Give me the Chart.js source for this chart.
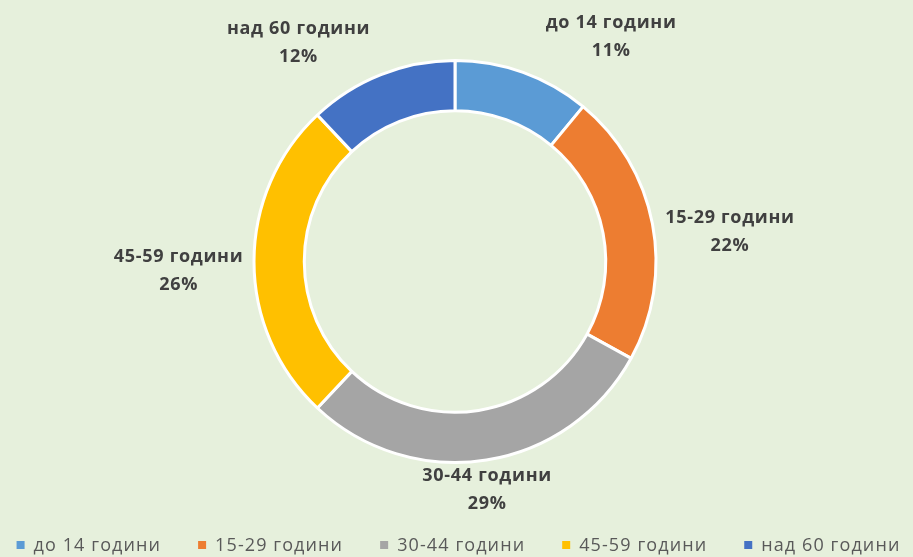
<!DOCTYPE html>
<html><head><meta charset="utf-8">
<script src="https://cdn.jsdelivr.net/npm/chart.js@4/dist/chart.umd.min.js"></script>
<style>
html,body{margin:0;padding:0;background:#e6f0dc;}
#wrap{width:913px;height:557px;position:relative;}
</style></head><body>
<div id="wrap"><canvas id="c" width="913" height="557"></canvas></div>
<script>
const categories = ["до 14 години", "15-29 години", "30-44 години", "45-59 години", "над 60 години"];
const values = [11, 22, 29, 26, 12];
const colors = ["#5b9bd5", "#ed7d31", "#a5a5a5", "#ffc000", "#4472c4"];

// label placement tweaks (degrees shift from slice mid angle, distance as multiple of outer radius)
const labelAngleShift = [15, 4.6, 1, -2, -14];
const labelDistance = [1.361, 1.376, 1.149, 1.376, 1.337];

const labelPlugin = {
  id: 'outLabels',
  afterDatasetsDraw(chart) {
    const ctx = chart.ctx;
    const meta = chart.getDatasetMeta(0);
    const total = values.reduce((a,b)=>a+b,0);
    ctx.save();
    ctx.fillStyle = '#404040';
    ctx.font = 'bold 18px "Open Sans", sans-serif';
    if ('letterSpacing' in ctx) ctx.letterSpacing = '0.7px';
    ctx.textAlign = 'center';
    ctx.textBaseline = 'middle';
    meta.data.forEach((arc, i) => {
      const p = arc.getProps(['x','y','startAngle','endAngle','outerRadius'], true);
      const mid = (p.startAngle + p.endAngle)/2 + labelAngleShift[i]*Math.PI/180;
      const d = p.outerRadius * labelDistance[i];
      const cx = p.x + Math.cos(mid)*d;
      const cy = p.y + Math.sin(mid)*d;
      ctx.fillText(categories[i], cx, cy - 14);
      ctx.fillText(Math.round(values[i]/total*100) + '%', cx, cy + 14);
    });
    ctx.restore();
  }
};

const legendPlugin = {
  id: 'bottomLegend',
  afterDraw(chart) {
    const ctx = chart.ctx;
    ctx.save();
    ctx.font = '18px "Open Sans", sans-serif';
    if ('letterSpacing' in ctx) ctx.letterSpacing = '1.1px';
    ctx.textBaseline = 'middle';
    ctx.textAlign = 'left';
    const box = 8, boxGap = 9, itemGap = 37;
    const widths = categories.map(t => ctx.measureText(t).width);
    const total = widths.reduce((a,w)=>a+box+boxGap+w,0) + itemGap*(categories.length-1);
    let x = (chart.width - total)/2 + 2;
    const y = 545;
    categories.forEach((t, i) => {
      ctx.fillStyle = colors[i];
      ctx.fillRect(x, y - box/2, box, box);
      ctx.fillStyle = '#595959';
      ctx.fillText(t, x + box + boxGap, y + 1);
      x += box + boxGap + widths[i] + itemGap;
    });
    ctx.restore();
  }
};

new Chart(document.getElementById('c'), {
  type: 'doughnut',
  data: {
    labels: categories,
    datasets: [{
      data: values,
      backgroundColor: colors,
      borderColor: '#ffffff',
      borderWidth: 3,
      hoverOffset: 0
    }]
  },
  options: {
    responsive: false,
    animation: false,
    cutout: '75%',
    layout: { padding: { top: 59, bottom: 93, left: 0, right: 3 } },
    plugins: {
      tooltip: { enabled: false },
      legend: { display: false }
    }
  },
  plugins: [labelPlugin, legendPlugin]
});
</script>
</body></html>
